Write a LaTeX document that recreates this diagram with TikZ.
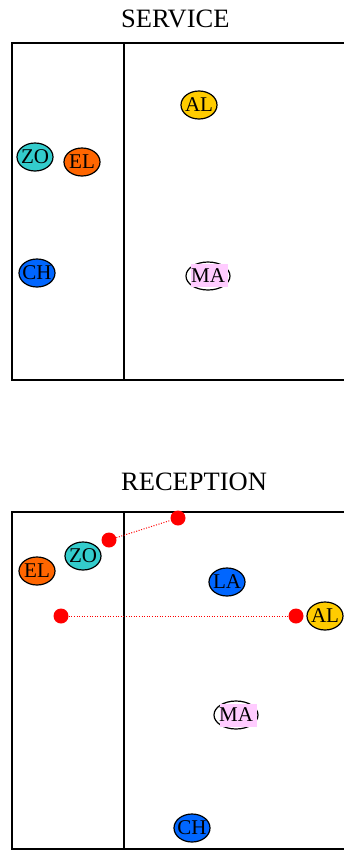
\documentclass[tikz,border=0pt]{standalone}
\usepackage{fontspec}
\setmainfont{Liberation Serif}
\usetikzlibrary{shapes.geometric}
\definecolor{cyel}{HTML}{FFCC00}
\definecolor{ccyan}{HTML}{33CCCC}
\definecolor{corange}{HTML}{FF6600}
\definecolor{cblue}{HTML}{0066FF}
\definecolor{cpink}{HTML}{FFCCFF}
\definecolor{cred}{HTML}{FF0000}
\tikzset{
  court/.style={line width=1.3pt},
  txt/.style={inner sep=0pt, font=\fontsize{21}{21}\selectfont},
  player/.style={ellipse, draw=black, line width=1.2pt, minimum width=36pt, minimum height=28pt, inner sep=0pt, label={[txt]center:#1}},
  ttl/.style={anchor=west, font=\fontsize{26.5}{26.5}\selectfont, inner sep=0pt},
  dot/.style={circle, fill=cred, minimum size=15pt, inner sep=0pt},
  path/.style={cred, dash pattern=on 1pt off 1.6pt, line width=1pt},
  pinkbox/.style={fill=cpink, minimum width=37pt, minimum height=23pt, inner sep=0pt}
}
\begin{document}
\begin{tikzpicture}[x=1pt,y=-1pt]
\useasboundingbox (0,0) rectangle (344,852);
% SERVICE
\node[ttl] (t1) at (121,19) {SERVICE};
\draw[court] (344,43) -- (12,43) -- (12,380) -- (344,380);
\draw[court] (124,43) -- (124,380);
\node[player=AL, fill=cyel] (al1) at (199,105) {};
\node[player=ZO, fill=ccyan] (zo1) at (35,157) {};
\node[player=EL, fill=corange] (el1) at (82,162) {};
\node[player=CH, fill=cblue] (ch1) at (37,273) {};
\node[player=, fill=white, minimum width=44pt] (ma1) at (208,276) {};
\node[pinkbox] (mb1) at (209.5,275.5) {};
\node[txt] (mt1) at (208,276) {MA};
% RECEPTION
\node[ttl] (t2) at (121,482) {RECEPTION};
\draw[court] (344,512) -- (12,512) -- (12,849) -- (344,849);
\draw[court] (124,512) -- (124,849);
\node[dot] (d1) at (178,518) {};
\node[dot] (d2) at (109,540) {};
\node[dot] (d3) at (61,616) {};
\node[dot] (d4) at (296,616) {};
\draw[path] (d2) -- (d1);
\draw[path] (d3) -- (d4);
\node[player=ZO, fill=ccyan] (zo2) at (83,556) {};
\node[player=EL, fill=corange] (el2) at (37,571) {};
\node[player=LA, fill=cblue] (la2) at (227,582) {};
\node[player=AL, fill=cyel] (al2) at (325,616) {};
\node[player=, fill=white, minimum width=44pt] (ma2) at (236,715) {};
\node[pinkbox] (mb2) at (238,715) {};
\node[txt] (mt2) at (236,715) {MA};
\node[player=CH, fill=cblue] (ch2) at (192,828) {};
\end{tikzpicture}
\end{document}
